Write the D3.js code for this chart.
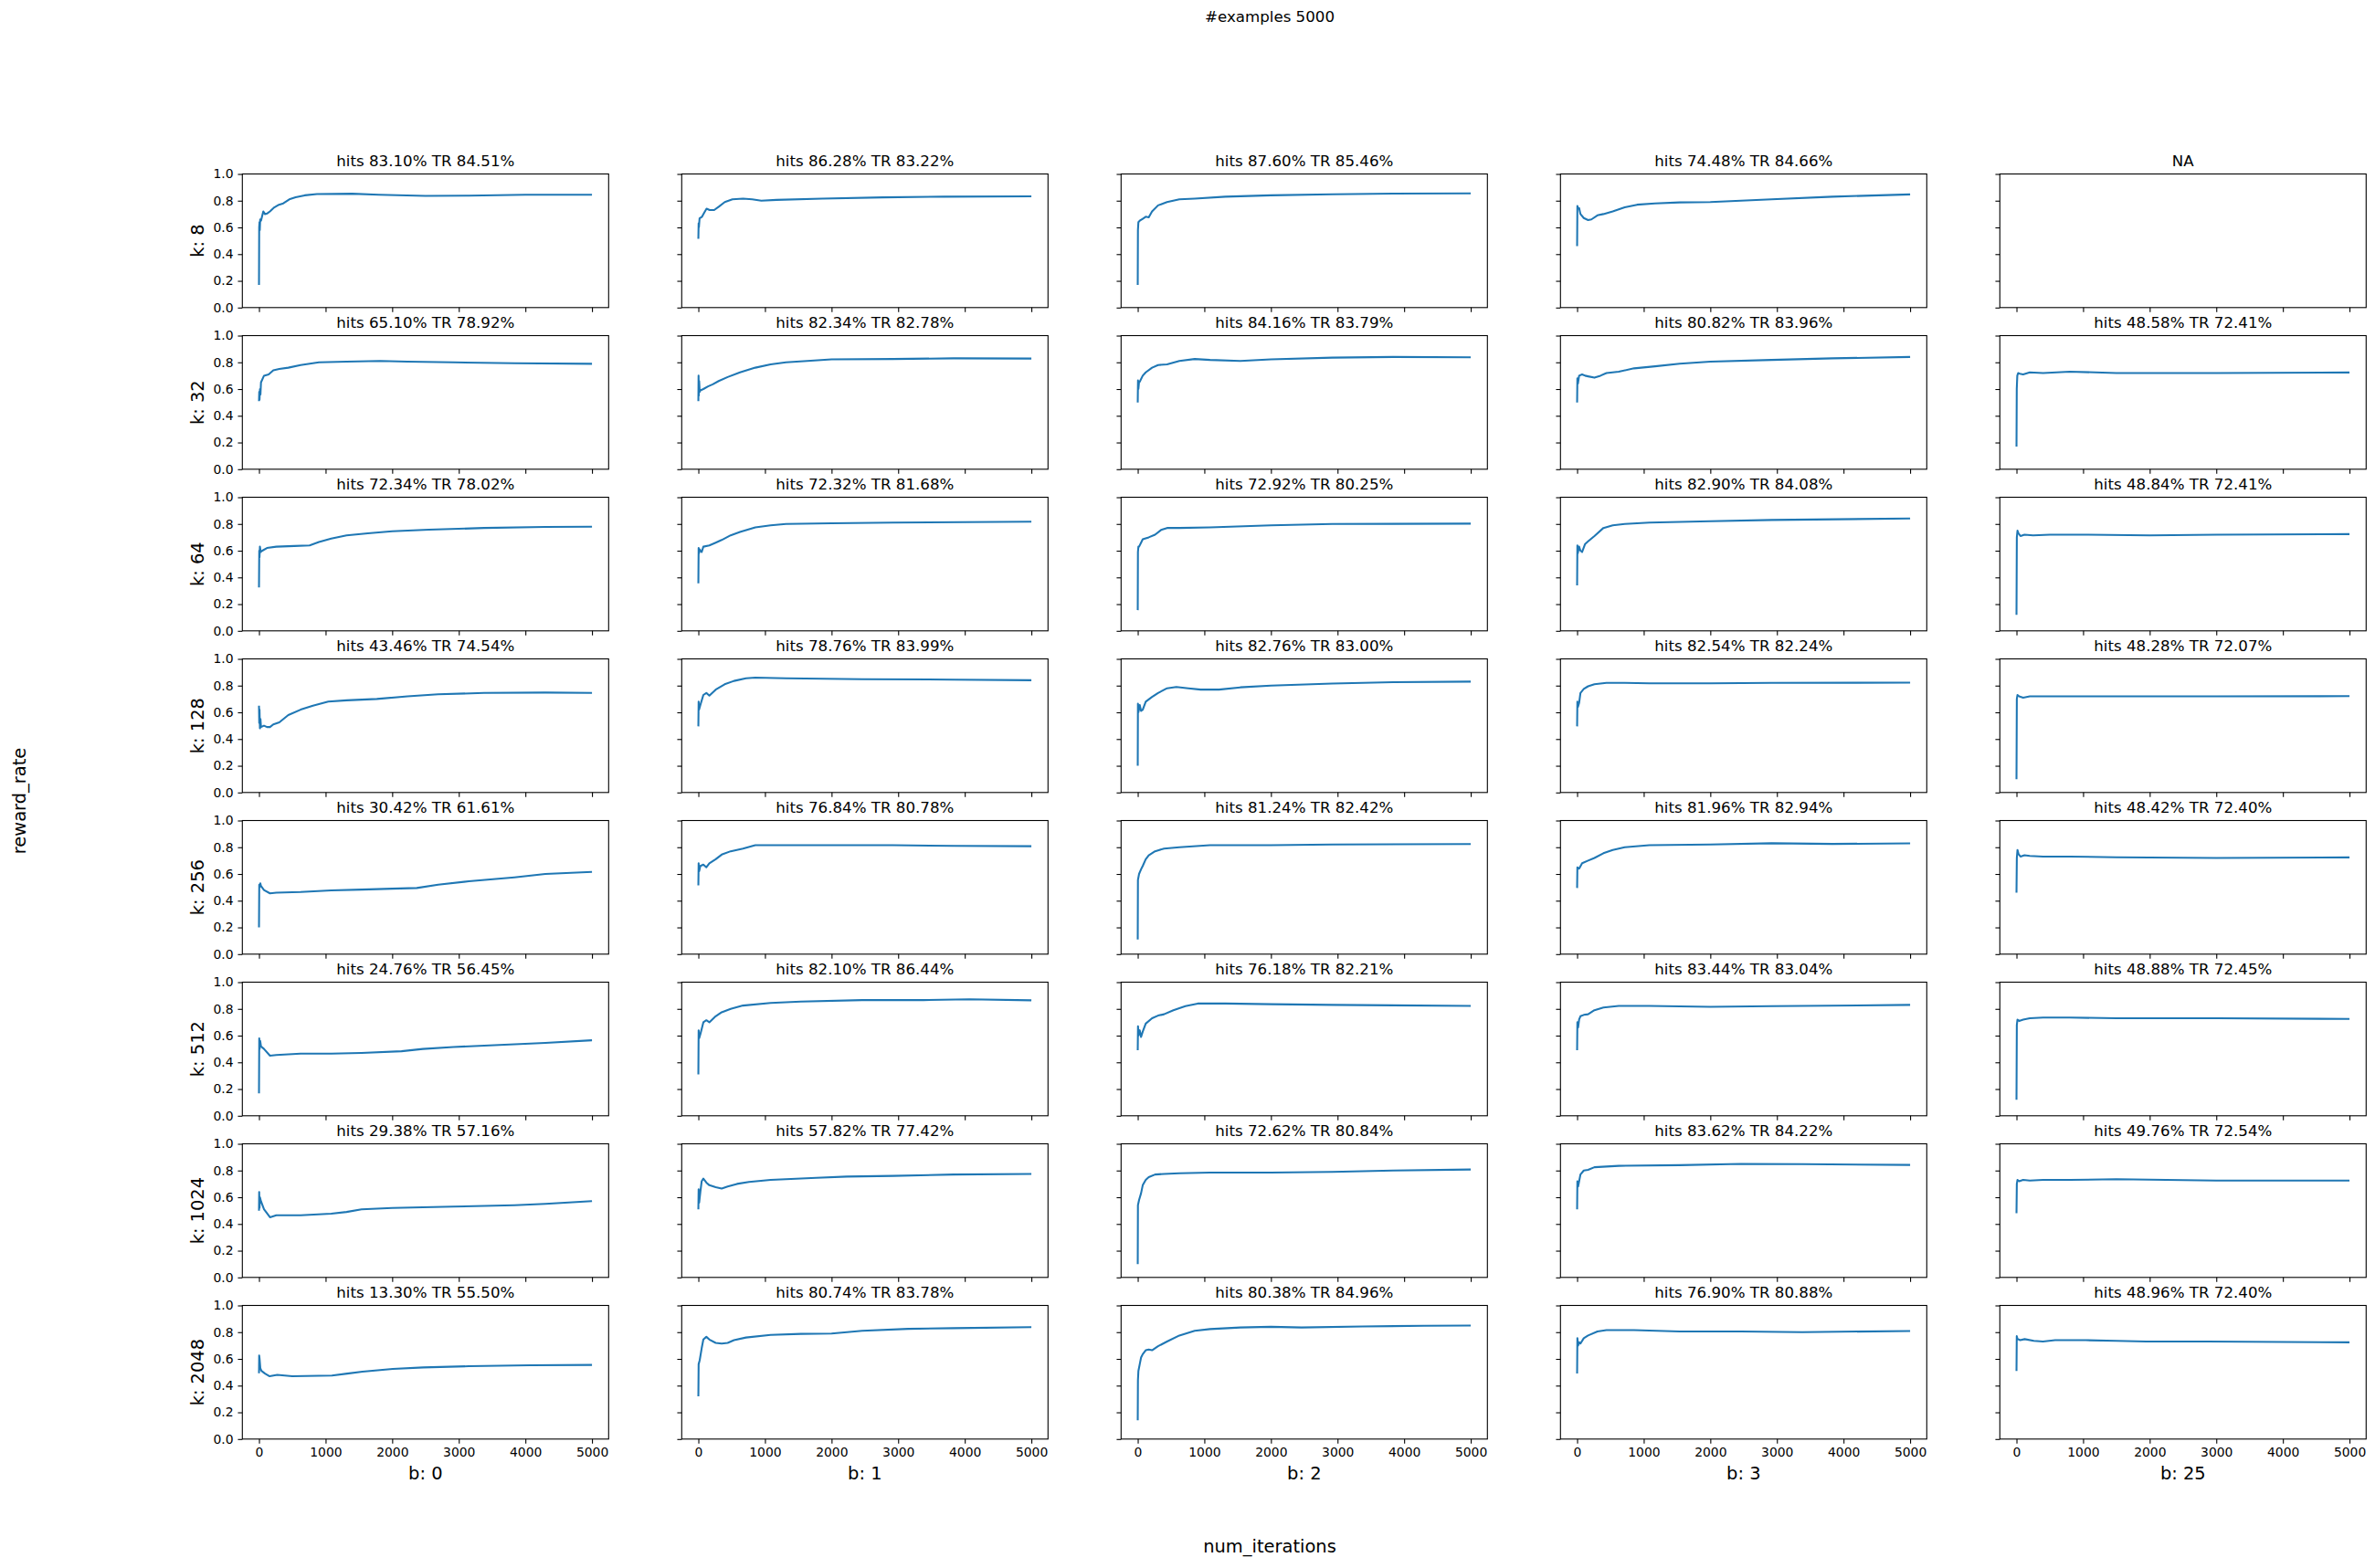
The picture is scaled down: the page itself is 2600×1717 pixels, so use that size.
<!DOCTYPE html>
<html>
<head>
<meta charset="utf-8">
<script src="https://cdn.jsdelivr.net/npm/d3@7/dist/d3.min.js"></script>
<style>
  html, body { margin: 0; padding: 0; background: #ffffff; }
  svg { display: block; font-family: "DejaVu Sans", sans-serif; }
</style>
</head>
<body>
<svg id="chart" width="2600" height="1717"></svg>
<script>
// ---------------- DATA ----------------
const kValues = [8, 32, 64, 128, 256, 512, 1024, 2048];
const bValues = [0, 1, 2, 3, 25];
const xTickValues = [0, 1000, 2000, 3000, 4000, 5000];
const yTickValues = [0.0, 0.2, 0.4, 0.6, 0.8, 1.0];
const suptitleText = "#examples 5000";
const xLabelText = "num_iterations";
const yLabelText = "reward_rate";

// hits % per row (k) and column (b); null = NA
const hitsK8 = [83.10, 86.28, 87.60, 74.48, null];
const hitsK32 = [65.10, 82.34, 84.16, 80.82, 48.58];
const hitsK64 = [72.34, 72.32, 72.92, 82.90, 48.84];
const hitsK128 = [43.46, 78.76, 82.76, 82.54, 48.28];
const hitsK256 = [30.42, 76.84, 81.24, 81.96, 48.42];
const hitsK512 = [24.76, 82.10, 76.18, 83.44, 48.88];
const hitsK1024 = [29.38, 57.82, 72.62, 83.62, 49.76];
const hitsK2048 = [13.30, 80.74, 80.38, 76.90, 48.96];
// TR % per row (k) and column (b)
const trK8 = [84.51, 83.22, 85.46, 84.66, null];
const trK32 = [78.92, 82.78, 83.79, 83.96, 72.41];
const trK64 = [78.02, 81.68, 80.25, 84.08, 72.41];
const trK128 = [74.54, 83.99, 83.00, 82.24, 72.07];
const trK256 = [61.61, 80.78, 82.42, 82.94, 72.40];
const trK512 = [56.45, 86.44, 82.21, 83.04, 72.45];
const trK1024 = [57.16, 77.42, 80.84, 84.22, 72.54];
const trK2048 = [55.50, 83.78, 84.96, 80.88, 72.40];

// reward_rate series: [num_iterations, reward_rate]
const k8b0 = [[0,.17],[3,.60],[8,.64],[12,.58],[18,.66],[30,.65],[45,.68],[65,.72],[90,.70],[125,.705],[165,.72],[230,.75],[300,.77],[365,.78],[455,.81],[550,.825],[685,.84],[870,.85],[1400,.852],[1800,.845],[2500,.836],[3150,.838],[4000,.844],[5000,.845]];
const k8b1 = [[0,.515],[4,.63],[8,.60],[18,.667],[55,.68],[87,.71],[123,.74],[170,.73],[237,.73],[306,.755],[397,.79],[511,.81],[671,.815],[808,.81],[945,.80],[1174,.806],[1858,.815],[2772,.825],[3685,.83],[5000,.832]];
const k8b2 = [[0,.17],[3,.58],[10,.64],[30,.65],[75,.665],[120,.68],[165,.675],[215,.72],[305,.765],[440,.79],[625,.81],[855,.815],[1315,.83],[2000,.84],[2920,.848],[3835,.853],[5000,.855]];
const k8b3 = [[0,.46],[4,.76],[15,.74],[30,.745],[50,.70],[100,.67],[165,.655],[215,.66],[305,.69],[395,.70],[535,.72],[715,.75],[900,.77],[1170,.78],[1540,.787],[2000,.79],[2920,.81],[3835,.83],[5000,.847]];
const k8b25 = null;

const k32b0 = [[0,.51],[4,.58],[8,.52],[15,.60],[22,.56],[30,.65],[75,.70],[145,.71],[215,.74],[305,.75],[440,.76],[625,.78],[900,.80],[1315,.805],[1820,.81],[2230,.805],[2920,.80],[3835,.793],[5000,.789]];
const k32b1 = [[0,.51],[3,.70],[7,.55],[12,.66],[20,.58],[30,.59],[75,.60],[145,.62],[215,.635],[305,.66],[440,.69],[625,.725],[855,.76],[1085,.785],[1315,.80],[1635,.81],[2000,.822],[2920,.825],[3835,.83],[5000,.828]];
const k32b2 = [[0,.50],[4,.665],[10,.60],[20,.655],[30,.655],[75,.70],[120,.725],[215,.76],[305,.78],[440,.785],[625,.81],[855,.825],[1085,.818],[1540,.81],[2000,.822],[2920,.835],[3835,.84],[5000,.838]];
const k32b3 = [[0,.50],[4,.68],[12,.64],[30,.70],[75,.71],[120,.70],[165,.695],[260,.685],[350,.70],[440,.72],[625,.73],[855,.755],[1170,.77],[1540,.79],[2000,.805],[2920,.818],[3835,.83],[5000,.84]];
const k32b25 = [[0,.17],[4,.60],[12,.70],[25,.72],[50,.715],[100,.71],[200,.725],[400,.72],[800,.73],[1500,.72],[3000,.72],[5000,.724]];

const k64b0 = [[0,.325],[4,.60],[8,.55],[14,.63],[25,.59],[50,.60],[120,.62],[260,.63],[530,.635],[760,.64],[900,.665],[1085,.69],[1315,.715],[1635,.73],[2000,.745],[2550,.757],[3380,.77],[4300,.778],[5000,.780]];
const k64b1 = [[0,.355],[4,.62],[10,.58],[20,.61],[30,.60],[50,.59],[75,.63],[165,.64],[260,.66],[350,.68],[485,.715],[625,.74],[855,.775],[1085,.79],[1315,.80],[2000,.805],[2920,.81],[5000,.817]];
const k64b2 = [[0,.155],[3,.59],[10,.63],[20,.63],[50,.66],[75,.685],[165,.70],[260,.72],[350,.755],[440,.77],[625,.77],[1085,.775],[2000,.79],[2920,.80],[5000,.8025]];
const k64b3 = [[0,.34],[4,.64],[10,.58],[30,.63],[50,.60],[75,.59],[120,.65],[165,.67],[260,.71],[395,.77],[535,.79],[715,.80],[1085,.81],[2000,.82],[2920,.83],[5000,.841]];
const k64b25 = [[0,.12],[5,.70],[15,.75],[30,.73],[60,.71],[120,.72],[250,.715],[500,.72],[1000,.72],[2000,.715],[3000,.72],[5000,.724]];

const k128b0 = [[0,.65],[4,.52],[8,.62],[14,.48],[22,.55],[30,.49],[75,.50],[120,.49],[165,.49],[215,.51],[305,.525],[440,.58],[625,.62],[810,.65],[1040,.68],[1315,.69],[1770,.70],[2230,.72],[2690,.735],[3380,.745],[4300,.748],[5000,.745]];
const k128b1 = [[0,.495],[4,.68],[10,.62],[30,.655],[75,.73],[120,.745],[165,.725],[260,.77],[395,.81],[535,.835],[715,.855],[855,.86],[1315,.855],[2460,.848],[3835,.845],[5000,.84]];
const k128b2 = [[0,.20],[3,.665],[10,.60],[30,.655],[50,.61],[75,.62],[120,.68],[215,.715],[305,.745],[440,.78],[580,.79],[760,.78],[945,.77],[1220,.77],[1540,.787],[2000,.80],[2920,.815],[3835,.826],[5000,.83]];
const k128b3 = [[0,.495],[4,.68],[12,.64],[30,.67],[50,.745],[100,.775],[165,.795],[260,.81],[440,.82],[715,.82],[1085,.817],[2000,.817],[2920,.82],[5000,.822]];
const k128b25 = [[0,.10],[5,.70],[15,.73],[40,.72],[100,.71],[200,.72],[400,.72],[800,.72],[1500,.72],[3000,.72],[5000,.721]];

const k256b0 = [[0,.20],[4,.52],[10,.50],[20,.53],[30,.51],[75,.48],[165,.455],[260,.46],[625,.465],[1085,.477],[1540,.483],[2000,.49],[2370,.495],[2690,.52],[3150,.545],[3835,.575],[4300,.60],[5000,.616]];
const k256b1 = [[0,.515],[4,.68],[12,.62],[30,.66],[75,.67],[120,.65],[165,.68],[260,.71],[350,.745],[485,.77],[670,.79],[855,.815],[1540,.815],[2920,.815],[3835,.81],[5000,.808]];
const k256b2 = [[0,.11],[3,.555],[20,.60],[50,.635],[75,.66],[120,.71],[165,.74],[260,.77],[395,.79],[625,.80],[1085,.815],[2000,.815],[2920,.82],[5000,.824]];
const k256b3 = [[0,.495],[4,.65],[30,.64],[75,.68],[165,.70],[260,.72],[395,.755],[535,.78],[715,.80],[1085,.815],[2000,.82],[2920,.83],[3835,.825],[5000,.829]];
const k256b25 = [[0,.46],[5,.72],[15,.78],[30,.75],[60,.73],[120,.74],[200,.735],[400,.73],[800,.73],[1500,.725],[3000,.72],[5000,.724]];

const k512b0 = [[0,.167],[4,.58],[10,.50],[18,.56],[30,.52],[75,.50],[165,.45],[260,.455],[625,.465],[1085,.465],[1540,.47],[2140,.483],[2460,.50],[2920,.515],[3610,.53],[4300,.545],[5000,.565]];
const k512b1 = [[0,.31],[4,.64],[12,.58],[30,.61],[50,.65],[75,.70],[120,.715],[165,.70],[260,.745],[350,.775],[485,.80],[670,.825],[1085,.845],[1540,.855],[2460,.866],[3380,.866],[4070,.872],[5000,.864]];
const k512b2 = [[0,.49],[4,.67],[12,.60],[30,.64],[50,.59],[75,.63],[120,.69],[215,.73],[305,.75],[395,.76],[535,.79],[715,.82],[900,.84],[1315,.84],[2000,.835],[2920,.83],[5000,.822]];
const k512b3 = [[0,.49],[4,.70],[15,.66],[30,.72],[50,.745],[100,.755],[165,.76],[260,.79],[395,.81],[625,.822],[1085,.822],[2000,.815],[2920,.82],[5000,.83]];
const k512b25 = [[0,.12],[5,.68],[15,.72],[40,.71],[100,.72],[200,.73],[400,.735],[800,.735],[1500,.73],[3000,.73],[5000,.7245]];

const k1024b0 = [[0,.50],[3,.64],[8,.52],[14,.60],[30,.57],[75,.51],[165,.45],[260,.465],[625,.465],[1085,.477],[1315,.49],[1540,.51],[2000,.52],[2920,.53],[3835,.54],[4300,.55],[5000,.5716]];
const k1024b1 = [[0,.51],[4,.66],[12,.56],[30,.64],[50,.72],[75,.74],[120,.71],[165,.69],[260,.675],[350,.665],[440,.68],[580,.70],[760,.715],[1085,.73],[1315,.735],[1770,.745],[2230,.755],[2920,.76],[3835,.77],[5000,.774]];
const k1024b2 = [[0,.10],[3,.54],[20,.58],[50,.63],[75,.69],[120,.73],[165,.75],[260,.77],[395,.775],[625,.78],[1085,.785],[2000,.785],[2920,.79],[3835,.80],[5000,.808]];
const k1024b3 = [[0,.51],[4,.72],[15,.68],[50,.77],[100,.80],[165,.805],[260,.825],[625,.835],[1540,.84],[2460,.85],[3380,.848],[5000,.842]];
const k1024b25 = [[0,.48],[5,.70],[15,.73],[40,.72],[100,.73],[200,.725],[400,.73],[800,.73],[1500,.735],[3000,.725],[5000,.7254]];

const k2048b0 = [[0,.493],[3,.625],[9,.60],[20,.53],[37,.51],[91,.49],[160,.47],[274,.48],[500,.47],[1096,.475],[1324,.49],[1553,.505],[2009,.525],[2466,.536],[3150,.545],[4064,.552],[5000,.555]];
const k2048b1 = [[0,.32],[4,.56],[20,.59],[50,.68],[75,.745],[120,.765],[165,.745],[260,.72],[350,.715],[440,.72],[535,.74],[715,.76],[1085,.78],[1540,.787],[2000,.79],[2460,.81],[3150,.825],[3835,.83],[5000,.838]];
const k2048b2 = [[0,.14],[3,.44],[10,.51],[30,.56],[50,.61],[75,.635],[120,.665],[165,.67],[215,.665],[305,.695],[440,.73],[625,.775],[855,.81],[1085,.823],[1540,.835],[2000,.84],[2460,.835],[3380,.843],[4300,.848],[5000,.85]];
const k2048b3 = [[0,.49],[4,.755],[15,.70],[30,.725],[50,.715],[100,.755],[165,.775],[305,.805],[440,.815],[855,.815],[1540,.805],[2460,.805],[3380,.80],[5000,.809]];
const k2048b25 = [[0,.51],[4,.77],[14,.75],[55,.74],[123,.748],[260,.735],[397,.73],[580,.74],[1037,.74],[1494,.735],[1950,.73],[2865,.73],[5000,.724]];

const hitsRows = [hitsK8, hitsK32, hitsK64, hitsK128, hitsK256, hitsK512, hitsK1024, hitsK2048];
const trRows = [trK8, trK32, trK64, trK128, trK256, trK512, trK1024, trK2048];
const seriesRows = [
  [k8b0, k8b1, k8b2, k8b3, k8b25],
  [k32b0, k32b1, k32b2, k32b3, k32b25],
  [k64b0, k64b1, k64b2, k64b3, k64b25],
  [k128b0, k128b1, k128b2, k128b3, k128b25],
  [k256b0, k256b1, k256b2, k256b3, k256b25],
  [k512b0, k512b1, k512b2, k512b3, k512b25],
  [k1024b0, k1024b1, k1024b2, k1024b3, k1024b25],
  [k2048b0, k2048b1, k2048b2, k2048b3, k2048b25]
];

// ---------------- LAYOUT ----------------
const left0 = 265.3, colPitch = 481, axW = 401;
const top0 = 190.5, rowPitch = 177, axH = 146.3;
const tickLen = 4.86, tickPad = 4.86;
const lineColor = "#1f77b4";

const svg = d3.select("#chart");
svg.append("rect").attr("width", 2600).attr("height", 1717).attr("fill", "#fff");

const x = d3.scaleLinear().domain([-250, 5250]).range([0, axW]);
const y = d3.scaleLinear().domain([0, 1]).range([axH, 0]);
const line = d3.line().x(d => x(d[0])).y(d => y(d[1])).curve(d3.curveLinear);

kValues.forEach((k, ri) => {
  bValues.forEach((b, ci) => {
    const gx = left0 + ci * colPitch, gy = top0 + ri * rowPitch;
    const g = svg.append("g").attr("transform", `translate(${gx},${gy})`);
    const data = seriesRows[ri][ci];

    // y axis ticks
    const yAxis = d3.axisLeft(y).tickValues(yTickValues).tickSize(tickLen).tickPadding(tickPad)
      .tickFormat(ci === 0 ? d3.format(".1f") : () => "");
    const ya = g.append("g").call(yAxis);
    ya.select(".domain").remove();
    ya.selectAll("line").attr("stroke", "#000").attr("stroke-width", 1.1);
    ya.selectAll("text").attr("font-size", 13.9).attr("fill", "#000")
      .attr("font-family", "DejaVu Sans, sans-serif");

    // x axis ticks
    const xAxis = d3.axisBottom(x).tickValues(xTickValues).tickSize(tickLen).tickPadding(tickPad)
      .tickFormat(ri === kValues.length - 1 ? d3.format("d") : () => "");
    const xa = g.append("g").attr("transform", `translate(0,${axH})`).call(xAxis);
    xa.select(".domain").remove();
    xa.selectAll("line").attr("stroke", "#000").attr("stroke-width", 1.1);
    xa.selectAll("text").attr("font-size", 13.9).attr("fill", "#000")
      .attr("font-family", "DejaVu Sans, sans-serif");

    // data line
    if (data) {
      g.append("path").datum(data).attr("d", line)
        .attr("fill", "none").attr("stroke", lineColor).attr("stroke-width", 2.08)
        .attr("stroke-linejoin", "round");
    }

    // frame
    g.append("rect").attr("x", 0).attr("y", 0).attr("width", axW).attr("height", axH)
      .attr("fill", "none").attr("stroke", "#000").attr("stroke-width", 1.1);

    // title
    const h = hitsRows[ri][ci], tr = trRows[ri][ci];
    const title = (h === null) ? "NA" : `hits ${h.toFixed(2)}% TR ${tr.toFixed(2)}%`;
    g.append("text").attr("x", axW / 2).attr("y", -9).attr("text-anchor", "middle")
      .attr("font-size", 16.67).attr("fill", "#000").text(title);

    // row label
    if (ci === 0) {
      g.append("text").attr("transform", `translate(${223 - gx},${axH / 2}) rotate(-90)`)
        .attr("text-anchor", "middle").attr("font-size", 19.44).attr("fill", "#000")
        .text(`k: ${k}`);
    }
    // column label
    if (ri === kValues.length - 1) {
      g.append("text").attr("x", axW / 2).attr("y", 1620 - gy).attr("text-anchor", "middle")
        .attr("font-size", 19.44).attr("fill", "#000").text(`b: ${b}`);
    }
  });
});

// figure-level texts
svg.append("text").attr("x", 1390).attr("y", 24).attr("text-anchor", "middle")
  .attr("font-size", 16.67).attr("fill", "#000").text(suptitleText);
svg.append("text").attr("x", 1390).attr("y", 1700).attr("text-anchor", "middle")
  .attr("font-size", 19.44).attr("fill", "#000").text(xLabelText);
svg.append("text").attr("transform", "translate(28,877) rotate(-90)").attr("text-anchor", "middle")
  .attr("font-size", 19.44).attr("fill", "#000").text(yLabelText);
</script>
</body>
</html>
